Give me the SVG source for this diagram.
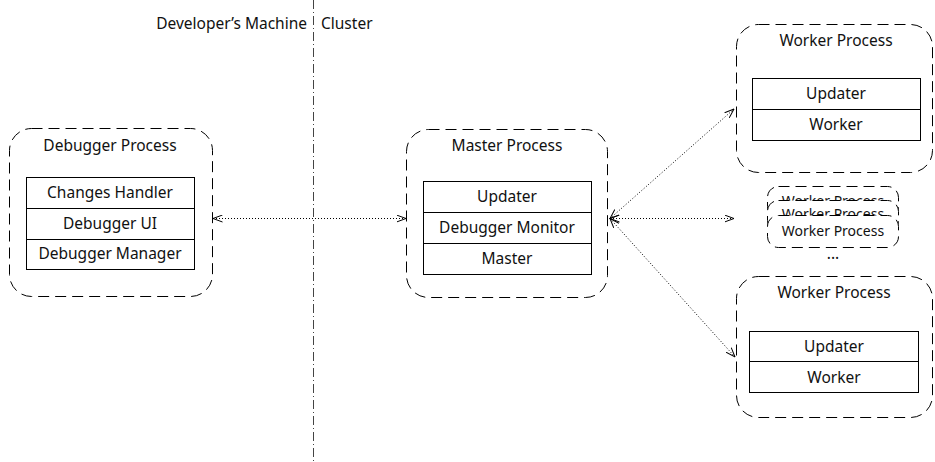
<svg xmlns="http://www.w3.org/2000/svg" width="935" height="462" viewBox="0 0 935 462">
  <style>
    text { font-family: "Noto Sans", "DejaVu Sans", sans-serif; font-size: 15.5px; fill: #111; text-anchor: middle; }
    .small { font-size: 14px; }
    .proc { fill: #fff; stroke: #000; stroke-width: 1; stroke-dasharray: 11 6; }
    .part { fill: #fff; stroke: #000; stroke-width: 1; }
    .link { fill: none; stroke: #000; stroke-width: 1; stroke-dasharray: 1 2; }
    .divider { fill: none; stroke: #444; stroke-width: 1; stroke-dasharray: 9 3 1 3; }
  </style>
  <defs>
    <marker id="head" viewBox="0 0 10 8" refX="9.5" refY="4" markerWidth="10" markerHeight="8" markerUnits="userSpaceOnUse" orient="auto-start-reverse">
      <path d="M0,0.5 L9.5,4 L0,7.5" fill="none" stroke="#000" stroke-width="1"/>
    </marker>
  </defs>

  <!-- machine boundary -->
  <g id="boundary">
    <line class="divider" x1="313.5" y1="0" x2="313.5" y2="462"/>
    <text x="307" y="29" style="text-anchor:end">Developer’s Machine</text>
    <text x="321" y="29" style="text-anchor:start">Cluster</text>
  </g>

  <!-- connectors -->
  <g id="connectors">
    <line class="link" x1="213" y1="218.5" x2="406" y2="218.5" marker-start="url(#head)" marker-end="url(#head)"/>
    <line class="link" x1="610" y1="218.5" x2="734" y2="109" marker-start="url(#head)" marker-end="url(#head)"/>
    <line class="link" x1="610" y1="218.5" x2="734" y2="218.5" marker-start="url(#head)" marker-end="url(#head)"/>
    <line class="link" x1="610" y1="218.5" x2="735" y2="357" marker-start="url(#head)" marker-end="url(#head)"/>
  </g>

  <g id="debugger-process">
    <rect class="proc" x="9.5" y="128.5" width="203" height="168" rx="22"/>
    <text x="110" y="151">Debugger Process</text>
    <rect class="part" x="26.5" y="177.5" width="168" height="31"/>
    <rect class="part" x="26.5" y="208.5" width="168" height="31"/>
    <rect class="part" x="26.5" y="239.5" width="168" height="30"/>
    <text x="110" y="198">Changes Handler</text>
    <text x="110" y="229">Debugger UI</text>
    <text x="110" y="259">Debugger Manager</text>
  </g>

  <g id="master-process">
    <rect class="proc" x="406.5" y="129.5" width="201" height="168" rx="22"/>
    <text x="507" y="151">Master Process</text>
    <rect class="part" x="423.5" y="181.5" width="168" height="31"/>
    <rect class="part" x="423.5" y="212.5" width="168" height="31"/>
    <rect class="part" x="423.5" y="243.5" width="168" height="31"/>
    <text x="507" y="202">Updater</text>
    <text x="507" y="233">Debugger Monitor</text>
    <text x="507" y="264">Master</text>
  </g>

  <g id="worker-process-1">
    <rect class="proc" x="736.5" y="24.5" width="196" height="148" rx="22"/>
    <text x="836" y="46">Worker Process</text>
    <rect class="part" x="752.5" y="78.5" width="168" height="31"/>
    <rect class="part" x="752.5" y="109.5" width="168" height="31"/>
    <text x="836" y="99">Updater</text>
    <text x="836" y="130">Worker</text>
  </g>

  <g id="worker-process-stack">
    <rect class="proc" x="767.5" y="186.5" width="131" height="31" rx="11"/>
    <text class="small" x="833" y="206">Worker Process</text>
    <rect class="proc" x="767.5" y="200.5" width="131" height="31" rx="11"/>
    <text class="small" x="833" y="219">Worker Process</text>
    <rect class="proc" x="767.5" y="215.5" width="131" height="32" rx="11"/>
    <text class="small" x="833" y="236">Worker Process</text>
    <text x="833" y="259">...</text>
  </g>

  <g id="worker-process-2">
    <rect class="proc" x="736.5" y="276.5" width="196" height="141" rx="22"/>
    <text x="834" y="298">Worker Process</text>
    <rect class="part" x="749.5" y="331.5" width="169" height="30"/>
    <rect class="part" x="749.5" y="361.5" width="169" height="31"/>
    <text x="834" y="352">Updater</text>
    <text x="834" y="383">Worker</text>
  </g>
</svg>
